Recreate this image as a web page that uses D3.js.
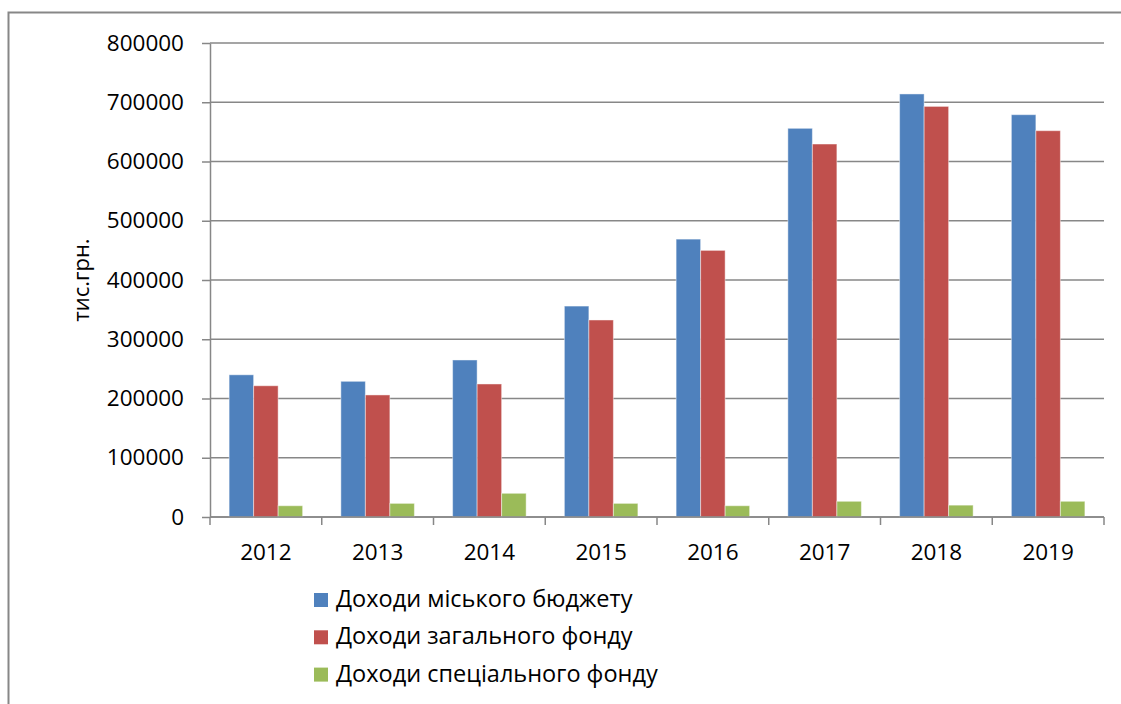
<!DOCTYPE html>
<html>
<head>
<meta charset="utf-8">
<script src="https://cdn.jsdelivr.net/npm/d3@7"></script>
<style>
  body { margin: 0; background: #fff; }
  svg { display: block; font-family: "Open Sans", sans-serif; }
</style>
</head>
<body>
<div id="wrapper"></div>
<script>
const years = ["2012", "2013", "2014", "2015", "2016", "2017", "2018", "2019"];
const seriesNames = ["Доходи міського бюджету", "Доходи загального фонду", "Доходи спеціального фонду"];
const cityBudget = [240000, 229000, 265000, 356000, 469000, 656000, 714000, 679000];
const generalFund = [221500, 206000, 224500, 332500, 450000, 629500, 693000, 652000];
const specialFund = [19000, 23000, 40000, 23000, 19000, 26500, 20000, 26500];
const yTicks = [0, 100000, 200000, 300000, 400000, 500000, 600000, 700000, 800000];
const colors = ["#4f81bd", "#c0504d", "#9bbb59"];

const dimensions = {
  width: 1121,
  height: 704,
  margin: { top: 43, right: 17, bottom: 187, left: 210 },
}
dimensions.boundedWidth = dimensions.width - dimensions.margin.left - dimensions.margin.right;
dimensions.boundedHeight = dimensions.height - dimensions.margin.top - dimensions.margin.bottom;

const seriesValues = [cityBudget, generalFund, specialFund];
const dataset = years.map((year, i) => ({
  year,
  values: seriesNames.map((name, s) => ({ name, s, value: seriesValues[s][i] })),
}));

const wrapper = d3.select("#wrapper")
  .append("svg")
    .attr("width", dimensions.width)
    .attr("height", dimensions.height)

// outer chart frame (runs past the right and bottom edges)
wrapper.append("rect")
  .attr("x", 8.5)
  .attr("y", 12.5)
  .attr("width", 1200)
  .attr("height", 800)
  .attr("fill", "#fff")
  .attr("stroke", "#878787")
  .attr("stroke-width", 2)

const bounds = wrapper.append("g")
  .attr("transform", `translate(${dimensions.margin.left}, ${dimensions.margin.top})`)

const xScale = d3.scaleBand()
  .domain(years)
  .range([0, dimensions.boundedWidth])
  .padding(0);

const x1Scale = d3.scaleBand()
  .domain(seriesNames)
  .range([0, xScale.bandwidth()])
  .paddingInner(0)
  .paddingOuter(0.78);

const yScale = d3.scaleLinear()
  .domain([0, 800000])
  .range([dimensions.boundedHeight, 0]);

// gridlines
bounds.append("g")
  .selectAll("line")
  .data(yTicks)
  .join("line")
    .attr("x1", 0)
    .attr("x2", dimensions.boundedWidth)
    .attr("y1", d => yScale(d))
    .attr("y2", d => yScale(d))
    .attr("stroke", "#878787")
    .attr("stroke-width", 1.5)

// bars
const groups = bounds.append("g")
  .selectAll("g")
  .data(dataset)
  .join("g")
    .attr("transform", d => `translate(${xScale(d.year)}, 0)`)

groups.selectAll("rect")
  .data(d => d.values)
  .join("rect")
    .attr("x", d => x1Scale(d.name))
    .attr("y", d => yScale(d.value))
    .attr("width", x1Scale.bandwidth())
    .attr("height", d => dimensions.boundedHeight - yScale(d.value))
    .attr("fill", d => colors[d.s])
    .attr("stroke", "rgba(255,255,255,0.45)")
    .attr("stroke-width", 1)

// y axis
const yAxisGenerator = d3.axisLeft()
  .scale(yScale)
  .tickValues(yTicks)
  .tickFormat(d3.format("d"))
  .tickSizeInner(8)
  .tickSizeOuter(0)
  .tickPadding(18);

const yAxis = bounds.append("g")
  .call(yAxisGenerator);
yAxis.select(".domain").attr("stroke", "#878787").attr("stroke-width", 1.5);
yAxis.selectAll(".tick line").attr("stroke", "#878787").attr("stroke-width", 1.5);
yAxis.selectAll(".tick text")
  .attr("fill", "#000")
  .style("font-size", "22.5px")
  .style("font-family", "Open Sans, sans-serif");

// x axis: ticks sit on the category boundaries
const xAxis = bounds.append("g")
  .attr("transform", `translate(0, ${dimensions.boundedHeight})`)

xAxis.append("line")
  .attr("x1", 0)
  .attr("x2", dimensions.boundedWidth)
  .attr("stroke", "#878787")
  .attr("stroke-width", 1.5)

const boundaries = years.map(y => xScale(y)).concat([dimensions.boundedWidth]);
xAxis.selectAll(".xtick")
  .data(boundaries)
  .join("line")
    .attr("class", "xtick")
    .attr("x1", d => d)
    .attr("x2", d => d)
    .attr("y1", 0)
    .attr("y2", 8)
    .attr("stroke", "#878787")
    .attr("stroke-width", 1.5)

xAxis.selectAll(".xlabel")
  .data(years)
  .join("text")
    .attr("class", "xlabel")
    .attr("x", d => xScale(d) + xScale.bandwidth() / 2)
    .attr("y", 43)
    .attr("text-anchor", "middle")
    .style("font-size", "22.5px")
    .text(d => d)

// y axis title
wrapper.append("text")
  .attr("transform", `translate(89, 280) rotate(-90)`)
  .attr("text-anchor", "middle")
  .style("font-size", "22px")
  .text("тис.грн.")

// legend
const legend = wrapper.append("g")
  .attr("transform", "translate(314, 593)")

const legendItems = legend.selectAll("g")
  .data(seriesNames)
  .join("g")
    .attr("transform", (d, i) => `translate(0, ${i * 37.3})`)

legendItems.append("rect")
  .attr("width", 14)
  .attr("height", 14)
  .attr("fill", (d, i) => colors[i])

legendItems.append("text")
  .attr("x", 22)
  .attr("y", 14)
  .style("font-size", "23.5px")
  .text(d => d)
</script>
</body>
</html>
